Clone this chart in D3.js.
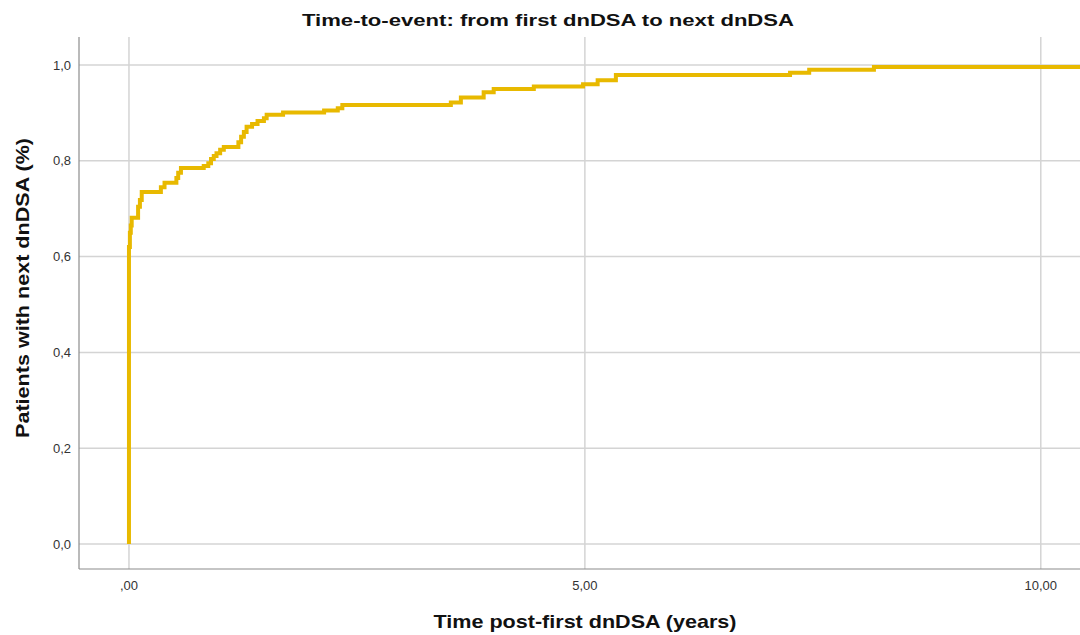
<!DOCTYPE html>
<html>
<head>
<meta charset="utf-8">
<script src="https://cdn.jsdelivr.net/npm/d3@7"></script>
<style>
  html, body { margin: 0; padding: 0; background: #fff; }
  svg { display: block; }
</style>
</head>
<body>
<svg id="chart" width="1080" height="635"></svg>
<script>
// ---- data ----
const eventTimes = [0, 0, 0.01, 0.02, 0.03, 0.10, 0.12, 0.14, 0.35, 0.39, 0.52, 0.54, 0.57,
  0.82, 0.87, 0.90, 0.93, 0.96, 1.00, 1.04, 1.20, 1.23, 1.26, 1.29, 1.35, 1.41, 1.48, 1.51,
  1.69, 2.14, 2.29, 2.34, 3.53, 3.64, 3.89, 4.00, 4.44, 4.98, 5.14, 5.34, 7.25, 7.46, 8.17];
const cumValues = [0, 0.62, 0.65, 0.665, 0.681, 0.704, 0.718, 0.735, 0.745, 0.754, 0.764, 0.775, 0.785,
  0.789, 0.795, 0.804, 0.810, 0.816, 0.823, 0.829, 0.839, 0.850, 0.860, 0.871, 0.877, 0.883, 0.889, 0.896,
  0.901, 0.905, 0.910, 0.9165, 0.922, 0.932, 0.943, 0.950, 0.955, 0.960, 0.968, 0.979, 0.984, 0.990, 0.996];
const followUpEnd = 10.6;
const xTicks = [0, 5, 10];
const xTickLabels = [",00", "5,00", "10,00"];
const yTicks = [0, 0.2, 0.4, 0.6, 0.8, 1.0];
const yTickLabels = ["0,0", "0,2", "0,4", "0,6", "0,8", "1,0"];
const titleText = "Time-to-event: from first dnDSA to next dnDSA";
const xTitle = "Time post-first dnDSA (years)";
const yTitle = "Patients with next dnDSA (%)";

// ---- layout ----
const W = 1080, H = 635;
const plot = { left: 79, top: 37, right: 1080, bottom: 569 };
const svg = d3.select("#chart");

const x = d3.scaleLinear().domain([-0.548, 10.43]).range([plot.left, plot.right]);
const y = d3.scaleLinear().domain([-0.0522, 1.0585]).range([plot.bottom, plot.top]);

const font = "'Liberation Sans', Arial, sans-serif";

// gridlines
const grid = svg.append("g");
grid.selectAll("line.h").data(yTicks).join("line")
  .attr("x1", plot.left).attr("x2", plot.right)
  .attr("y1", d => y(d)).attr("y2", d => y(d))
  .attr("stroke", "#d4d4d4").attr("stroke-width", 1.5);
grid.selectAll("line.v").data(xTicks).join("line")
  .attr("y1", plot.top).attr("y2", plot.bottom)
  .attr("x1", d => x(d)).attr("x2", d => x(d))
  .attr("stroke", "#d4d4d4").attr("stroke-width", 1.5);

// axes frame
svg.append("line").attr("x1", plot.left).attr("x2", plot.left)
  .attr("y1", plot.top).attr("y2", plot.bottom)
  .attr("stroke", "#8c8c8c").attr("stroke-width", 1.2);
svg.append("line").attr("x1", plot.left).attr("x2", plot.right)
  .attr("y1", plot.bottom).attr("y2", plot.bottom)
  .attr("stroke", "#8c8c8c").attr("stroke-width", 1.2);

// tick labels
svg.append("g").selectAll("text").data(yTicks).join("text")
  .attr("x", 71).attr("y", d => y(d)).attr("dy", "0.35em")
  .attr("text-anchor", "end")
  .attr("font-family", font).attr("font-size", 13).attr("fill", "#333")
  .text((d, i) => yTickLabels[i]);
svg.append("g").selectAll("text").data(xTicks).join("text")
  .attr("x", d => x(d)).attr("y", 590)
  .attr("text-anchor", "middle")
  .attr("font-family", font).attr("font-size", 13).attr("fill", "#333")
  .text((d, i) => xTickLabels[i]);

// curve
svg.append("clipPath").attr("id", "clip").append("rect")
  .attr("x", plot.left).attr("y", plot.top - 5)
  .attr("width", plot.right - plot.left).attr("height", plot.bottom - plot.top + 5);

const pts = eventTimes.map((t, i) => [t, cumValues[i]]);
pts.push([followUpEnd, cumValues[cumValues.length - 1]]);
const line = d3.line().x(d => x(d[0])).y(d => y(d[1])).curve(d3.curveStepAfter);
svg.append("path").datum(pts)
  .attr("clip-path", "url(#clip)")
  .attr("d", line)
  .attr("fill", "none")
  .attr("stroke", "#e8b900")
  .attr("stroke-width", 4)
  .attr("stroke-linejoin", "miter");

// titles
svg.append("text").attr("x", 548).attr("y", 26)
  .attr("text-anchor", "middle")
  .attr("font-family", font).attr("font-size", 17).attr("font-weight", "bold").attr("fill", "#111")
  .attr("textLength", 492).attr("lengthAdjust", "spacingAndGlyphs")
  .text(titleText);
svg.append("text").attr("x", 585).attr("y", 628)
  .attr("text-anchor", "middle")
  .attr("font-family", font).attr("font-size", 19).attr("font-weight", "bold").attr("fill", "#111")
  .attr("textLength", 303).attr("lengthAdjust", "spacingAndGlyphs")
  .text(xTitle);
svg.append("text")
  .attr("transform", "translate(29,288) rotate(-90)")
  .attr("text-anchor", "middle")
  .attr("font-family", font).attr("font-size", 19).attr("font-weight", "bold").attr("fill", "#111")
  .attr("textLength", 300).attr("lengthAdjust", "spacingAndGlyphs")
  .text(yTitle);
</script>
</body>
</html>
